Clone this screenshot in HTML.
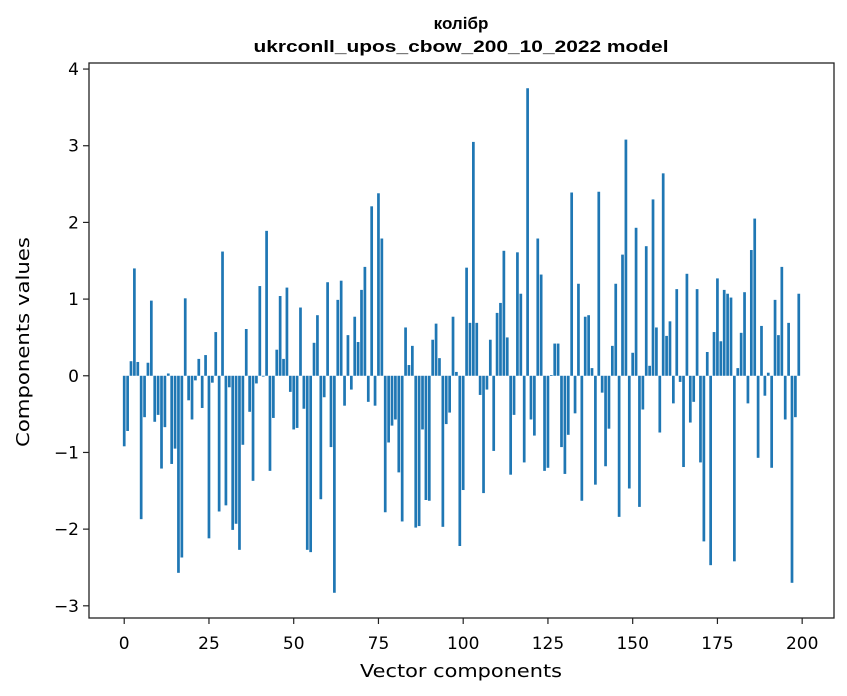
<!DOCTYPE html>
<html><head><meta charset="utf-8"><style>html,body{margin:0;padding:0;background:#fff}svg{display:block}</style></head>
<body>
<svg id="chart" width="847" height="696" viewBox="0 0 847 696" xmlns="http://www.w3.org/2000/svg">
<rect x="0" y="0" width="847" height="696" fill="#fff"/>
<text x="461" y="29" text-anchor="middle" font-family="Liberation Sans, Arial, sans-serif" font-weight="bold" font-size="17">колібр</text>
<text x="461" y="52" text-anchor="middle" font-family="Liberation Sans, Arial, sans-serif" font-weight="bold" font-size="17" textLength="415" lengthAdjust="spacingAndGlyphs">ukrconll_upos_cbow_200_10_2022 model</text>
<g id="bars"></g>
<g id="xticks"></g>
<g id="yticks"></g>
<rect x="89" y="63" width="745" height="555" fill="none" stroke="#222" stroke-width="1.3"/>
<text x="461" y="677" text-anchor="middle" font-family="DejaVu Sans, sans-serif" font-size="18" textLength="202" lengthAdjust="spacingAndGlyphs">Vector components</text>
<text transform="translate(29,342) rotate(-90)" text-anchor="middle" font-family="DejaVu Sans, sans-serif" font-size="18" textLength="210" lengthAdjust="spacingAndGlyphs">Components values</text>
</svg>
<script>
const values = [
-0.92,-0.72,0.19,1.40,0.18,-1.87,-0.54,0.17,0.98,-0.60,
-0.51,-1.21,-0.67,0.03,-1.15,-0.95,-2.57,-2.37,1.01,-0.32,
-0.57,-0.06,0.22,-0.42,0.27,-2.12,-0.09,0.57,-1.77,1.62,
-1.69,-0.15,-2.01,-1.93,-2.27,-0.90,0.61,-0.47,-1.37,-0.10,
1.17,-0.01,1.89,-1.24,-0.55,0.34,1.04,0.22,1.15,-0.21,
-0.70,-0.68,0.89,-0.43,-2.27,-2.30,0.43,0.79,-1.61,-0.28,
1.22,-0.93,-2.83,0.99,1.24,-0.39,0.53,-0.18,0.77,0.44,
1.12,1.42,-0.34,2.21,-0.39,2.38,1.79,-1.78,-0.87,-0.65,
-0.57,-1.26,-1.90,0.63,0.14,0.39,-1.98,-1.96,-0.70,-1.62,
-1.63,0.47,0.68,0.23,-1.97,-0.63,-0.48,0.77,0.05,-2.22,
-1.49,1.41,0.69,3.05,0.69,-0.25,-1.53,-0.18,0.47,-0.98,
0.82,0.95,1.63,0.50,-1.29,-0.51,1.61,1.07,-1.13,3.75,
-0.57,-0.78,1.79,1.32,-1.24,-1.20,0.01,0.42,0.42,-0.93,
-1.28,-0.77,2.39,-0.49,1.20,-1.63,0.77,0.79,0.10,-1.42,
2.40,-0.22,-1.18,-0.69,0.39,1.20,-1.84,1.58,3.08,-1.47,
0.30,1.93,-1.71,-0.44,1.69,0.13,2.30,0.63,-0.74,2.64,
0.52,0.71,-0.36,1.13,-0.08,-1.19,1.33,-0.61,-0.34,1.13,
-1.13,-2.16,0.31,-2.47,0.57,1.27,0.45,1.12,1.07,1.02,
-2.42,0.10,0.56,1.09,-0.36,1.64,2.05,-1.07,0.65,-0.26,
0.04,-1.20,0.99,0.53,1.42,-0.57,0.69,-2.70,-0.54,1.07
];
const xTickLabels = ["0","25","50","75","100","125","150","175","200"];
const yTickLabels = ["\u22123","\u22122","\u22121","0","1","2","3","4"];
const xTickValues = [0,25,50,75,100,125,150,175,200];
const yTickValues = [-3,-2,-1,0,1,2,3,4];

const NS = "http://www.w3.org/2000/svg";
const L = 89, R = 834, T = 63, B = 618;
const BW = 0.8;
const n = values.length;
const xd0 = -BW/2, xd1 = n - 1 + BW/2, xm = (xd1 - xd0) * 0.05;
const xMin = xd0 - xm, xMax = xd1 + xm;
let vmin = Math.min(0, ...values), vmax = Math.max(0, ...values);
const ym = (vmax - vmin) * 0.05;
const yMin = vmin - ym, yMax = vmax + ym;
function xs(v){ return L + (v - xMin) / (xMax - xMin) * (R - L); }
function ys(v){ return B - (v - yMin) / (yMax - yMin) * (B - T); }

const gb = document.getElementById('bars');
values.forEach((v, i) => {
  const r = document.createElementNS(NS, 'rect');
  const x0 = xs(i - BW/2), x1 = xs(i + BW/2);
  const y0 = ys(Math.max(v, 0)), y1 = ys(Math.min(v, 0));
  r.setAttribute('x', x0);
  r.setAttribute('y', y0);
  r.setAttribute('width', x1 - x0);
  r.setAttribute('height', Math.max(y1 - y0, 0));
  r.setAttribute('fill', '#1f77b4');
  
  
  gb.appendChild(r);
});

const gx = document.getElementById('xticks');
xTickValues.forEach((t, i) => {
  const x = xs(t);
  const l = document.createElementNS(NS, 'line');
  l.setAttribute('x1', x); l.setAttribute('x2', x);
  l.setAttribute('y1', B); l.setAttribute('y2', B + 6);
  l.setAttribute('stroke', '#222'); l.setAttribute('stroke-width', '1.2');
  
  
  gx.appendChild(l);
  const tx = document.createElementNS(NS, 'text');
  tx.setAttribute('x', x); tx.setAttribute('y', 649);
  tx.setAttribute('text-anchor', 'middle');
  tx.setAttribute('font-family', 'DejaVu Sans, sans-serif');
  tx.setAttribute('font-size', '17');
  tx.textContent = xTickLabels[i];
  
  
  gx.appendChild(tx);
});

const gy = document.getElementById('yticks');
yTickValues.forEach((t, i) => {
  const y = ys(t);
  const l = document.createElementNS(NS, 'line');
  l.setAttribute('x1', L - 6); l.setAttribute('x2', L);
  l.setAttribute('y1', y); l.setAttribute('y2', y);
  l.setAttribute('stroke', '#222'); l.setAttribute('stroke-width', '1.2');
  
  
  gy.appendChild(l);
  const tx = document.createElementNS(NS, 'text');
  tx.setAttribute('x', L - 10); tx.setAttribute('y', y + 6);
  tx.setAttribute('text-anchor', 'end');
  tx.setAttribute('font-family', 'DejaVu Sans, sans-serif');
  tx.setAttribute('font-size', '17');
  tx.textContent = yTickLabels[i];
  
  
  gy.appendChild(tx);
});
</script>
</body></html>
